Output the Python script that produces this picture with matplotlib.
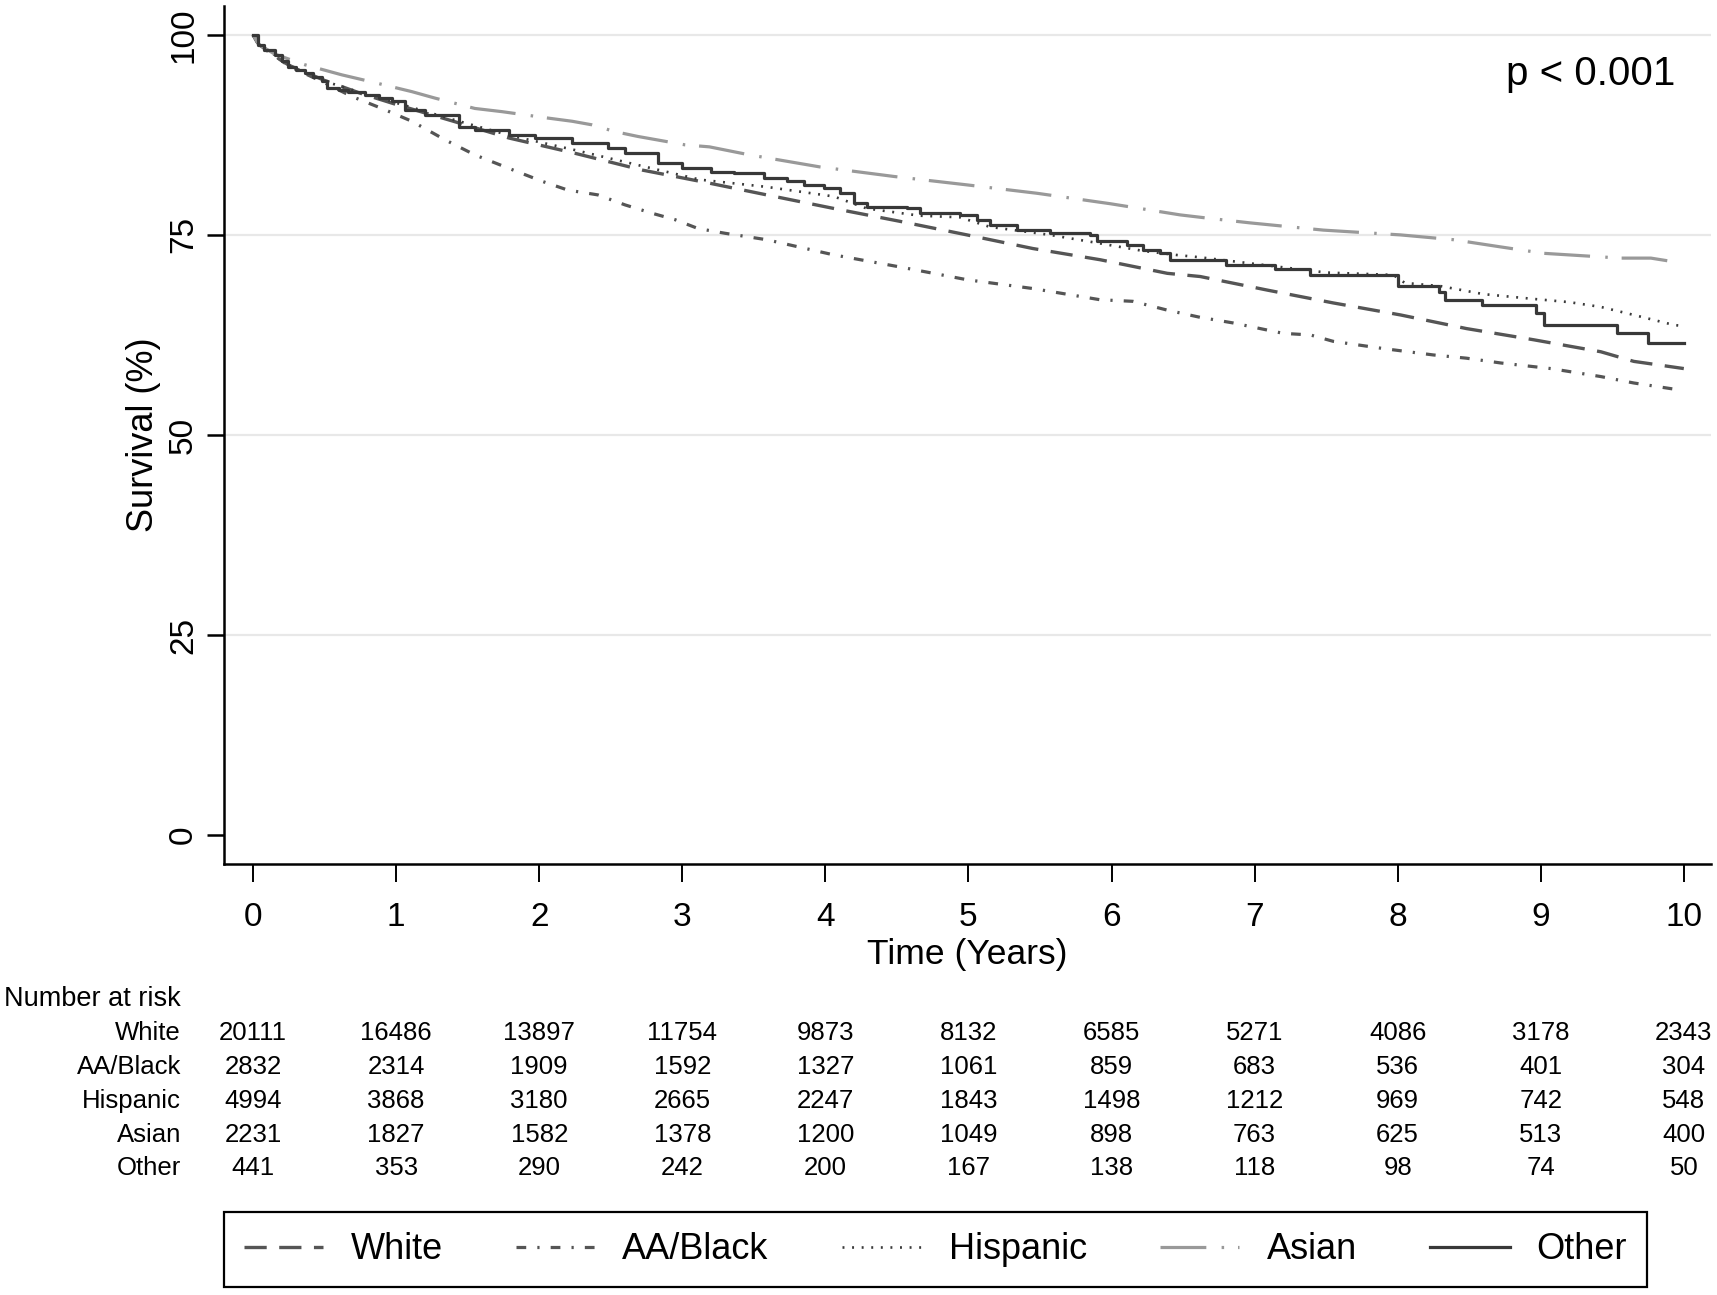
import matplotlib
matplotlib.use('Agg')
import matplotlib.pyplot as plt
from matplotlib.transforms import blended_transform_factory

plt.rcParams['font.family'] = ['Liberation Sans', 'DejaVu Sans']
plt.rcParams['lines.scale_dashes'] = False

# ---------------- data ----------------
groups = ['White', 'AA/Black', 'Hispanic', 'Asian', 'Other']

white_t = [0, 0.04, 0.15, 0.25, 0.5, 0.75, 1.0, 1.4, 1.79, 2.25, 2.72, 3.18, 3.59, 4.06, 4.52,
           4.99, 5.45, 5.92, 6.39, 6.62, 7.09, 7.55, 8.02, 8.48, 8.95, 9.42, 9.65, 10.0]
white_s = [100, 98.8, 97.4, 96.2, 94.3, 92.7, 91.3, 89.2, 87.1, 85.2, 83.1, 81.5, 80.0, 78.3, 76.7,
           75.0, 73.3, 71.9, 70.2, 69.8, 68.1, 66.5, 65.0, 63.3, 61.9, 60.4, 59.2, 58.3]

black_t = [0, 0.04, 0.15, 0.25, 0.5, 0.69, 0.9, 1.11, 1.34, 1.55, 1.79, 2.02, 2.2, 2.41, 2.6, 2.79,
           2.95, 3.11, 3.3, 3.59, 4.06, 4.52, 4.99, 5.45, 5.92, 6.15, 6.39, 6.62, 6.85, 7.2, 7.39,
           7.55, 7.9, 8.25, 8.48, 8.72, 9.07, 9.42, 9.65, 9.98]
black_s = [100, 98.7, 97.4, 96.1, 94.0, 92.3, 90.8, 89.2, 86.9, 85.0, 83.3, 81.7, 80.6, 80.0, 78.75,
           77.7, 76.9, 75.8, 75.2, 74.4, 72.5, 71.0, 69.4, 68.3, 66.9, 66.7, 65.6, 64.7, 64.0, 62.7,
           62.5, 61.7, 60.8, 60.0, 59.6, 59.0, 58.3, 57.3, 56.5, 55.6]

hisp_t = [0, 0.04, 0.15, 0.25, 0.5, 0.75, 1.0, 1.4, 1.8, 2.25, 2.72, 3.125, 3.59, 4.06, 4.29, 4.66,
          4.94, 5.15, 5.57, 5.9, 6.22, 6.45, 6.62, 7.13, 7.5, 7.97, 8.05, 8.3, 8.6, 8.95, 9.2,
          9.42, 9.65, 9.93, 10.0]
hisp_s = [100, 98.8, 97.5, 96.2, 94.2, 92.8, 91.5, 89.4, 87.4, 85.6, 83.6, 81.9, 81.0, 79.8, 78.3,
          77.4, 77.2, 76.0, 75.0, 74.0, 73.0, 72.5, 72.2, 71.1, 70.3, 70.0, 69.0, 68.6, 67.6, 67.0,
          66.6, 66.0, 65.0, 63.75, 63.6]

asian_t = [0, 0.04, 0.15, 0.364, 0.62, 0.81, 1.11, 1.27, 1.55, 1.74, 2.06, 2.23, 2.37, 2.53, 2.69,
           3.02, 3.19, 3.47, 3.96, 4.48, 4.99, 5.48, 5.99, 6.48, 6.67, 6.97, 7.48, 8.02, 8.39,
           8.72, 9.02, 9.56, 9.77, 9.98]
asian_s = [100, 98.8, 97.6, 96.25, 95.0, 94.2, 92.9, 92.1, 90.8, 90.4, 89.6, 89.2, 88.75, 87.9, 87.3,
           86.25, 86.0, 85.0, 83.5, 82.3, 81.25, 80.2, 78.9, 77.5, 77.1, 76.5, 75.6, 75.0, 74.4,
           73.5, 72.7, 72.1, 72.1, 71.5]

other_t = [0, 0.037, 0.08, 0.153, 0.2, 0.247, 0.3, 0.364, 0.42, 0.48, 0.515, 0.6, 0.666, 0.783, 0.88,
           0.97, 1.062, 1.2, 1.44, 1.55,
           1.79, 1.97, 2.23, 2.48, 2.6, 2.83, 3.0, 3.2, 3.36, 3.57, 3.73, 3.85, 3.99, 4.10, 4.20,
           4.29, 4.57, 4.66, 4.94, 5.06, 5.15, 5.34, 5.57, 5.85, 5.90, 6.11, 6.22, 6.34, 6.41,
           6.80, 7.14, 7.39, 8.0, 8.29, 8.33, 8.59, 8.97, 9.02, 9.53, 9.75, 10.0]
other_s = [100, 98.75, 98.1, 97.5, 96.7, 96.0, 95.6, 95.2, 94.7, 94.2, 93.3, 93.1, 92.9, 92.5, 92.1,
           91.7, 90.6, 90.0, 88.5, 88.1,
           87.5, 87.1, 86.5, 85.8, 85.2, 84.0, 83.3, 82.9, 82.7, 82.1, 81.7, 81.25, 80.8, 80.2, 79.0,
           78.5, 78.3, 77.7, 77.5, 76.9, 76.25, 75.6, 75.2, 75.0, 74.2, 73.75, 73.1, 72.7, 71.9,
           71.3, 70.7, 70.0, 68.6, 67.9, 66.9, 66.2, 65.2, 63.75, 62.7, 61.5, 61.5]

risk_times = [0, 1, 2, 3, 4, 5, 6, 7, 8, 9, 10]
risk_white = [20111, 16486, 13897, 11754, 9873, 8132, 6585, 5271, 4086, 3178, 2343]
risk_black = [2832, 2314, 1909, 1592, 1327, 1061, 859, 683, 536, 401, 304]
risk_hisp = [4994, 3868, 3180, 2665, 2247, 1843, 1498, 1212, 969, 742, 548]
risk_asian = [2231, 1827, 1582, 1378, 1200, 1049, 898, 763, 625, 513, 400]
risk_other = [441, 353, 290, 242, 200, 167, 138, 118, 98, 74, 50]

y_ticks = [0, 25, 50, 75, 100]
grid_levels = [25, 50, 75, 100]
x_ticks = list(range(0, 11))

# ---------------- figure ----------------
W, H = 1717, 1295
fig = plt.figure(figsize=(W / 100, H / 100), dpi=100)
ax = fig.add_axes([224 / W, 1 - 864 / H, (1711 - 224) / W, (864 - 6) / H])

for g in grid_levels:
    ax.axhline(g, color='#e8e8e8', lw=1.6, zorder=0)

l1, = ax.plot(white_t, white_s, color='#555555', lw=2.4, dashes=(16, 9), label=groups[0])
l2, = ax.plot(black_t, black_s, color='#555555', lw=2.3, dashes=(7, 8, 1.6, 8), label=groups[1])
l3, = ax.plot(hisp_t, hisp_s, color='#3a3a3a', lw=1.9, dashes=(1.4, 5.5), label=groups[2])
l4, = ax.plot(asian_t, asian_s, color='#999999', lw=2.3, dashes=(33, 11, 1.8, 10), label=groups[3])
l5, = ax.plot(other_t, other_s, color='#383838', lw=2.3, drawstyle='steps-post', label=groups[4])

ax.set_xlim(-0.203, 10.19)
ax.set_ylim(-3.6, 103.6)
ax.set_xticks(x_ticks)
ax.set_yticks(y_ticks)

for s in ['top', 'right']:
    ax.spines[s].set_visible(False)
for s in ['left', 'bottom']:
    ax.spines[s].set_linewidth(1.8)
    ax.spines[s].set_color('black')

ax.tick_params(axis='x', length=13, width=1.4, pad=14, labelsize=24)
ax.tick_params(axis='y', length=12, width=1.8, pad=6, labelsize=24)
for lbl in ax.get_yticklabels():
    lbl.set_rotation(90)
    lbl.set_va('center')

ax.set_ylabel('Survival (%)', fontsize=26, labelpad=5)
ax.set_xlabel('Time (Years)', fontsize=25.5, labelpad=4)

fig.text(1675 / W, 1 - 85 / H, 'p < 0.001', ha='right', va='baseline', fontsize=29)

# ---------------- number at risk table ----------------
trans = blended_transform_factory(ax.transData, fig.transFigure)
tfs = 18.5
fig.text(181 / W, 1 - 1006 / H, 'Number at risk', ha='right', va='baseline', fontsize=19.5)
rows = [risk_white, risk_black, risk_hisp, risk_asian, risk_other]
baselines = [1040, 1073.5, 1108, 1142, 1175]
for name, vals, yb in zip(groups, rows, baselines):
    fig.text(181 / W, 1 - yb / H, name, ha='right', va='baseline', fontsize=tfs)
    for t, v in zip(risk_times, vals):
        ax.text(t, 1 - yb / H, str(v), transform=trans, ha='center', va='baseline',
                fontsize=tfs, clip_on=False)

# ---------------- legend ----------------
leg = fig.legend(handles=[l1, l2, l3, l4, l5], labels=groups, loc='lower left',
                 bbox_to_anchor=(224 / W, 1 - 1287 / H, (1647 - 224) / W, 84 / H),
                 mode='expand', ncol=5, fontsize=26, frameon=True, fancybox=False,
                 borderpad=0.55, handlelength=2.2, handletextpad=0.75, borderaxespad=0,
                 columnspacing=1.5)
fr = leg.get_frame()
fr.set_edgecolor('black')
fr.set_linewidth(1.6)
fr.set_alpha(1)

fig.savefig('out.png', dpi=100, facecolor='white')
